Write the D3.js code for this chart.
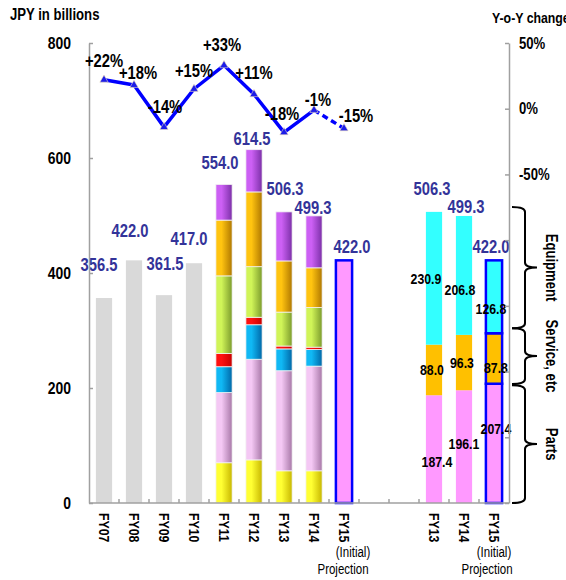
<!DOCTYPE html>
<meta charset="utf-8">
<script src="https://d3js.org/d3.v7.min.js"></script>
<style>
body { margin: 0; background: #fff; }
text {
  font-family: 'Liberation Sans Narrow', 'Arial Narrow', 'Liberation Sans', Arial, sans-serif;
  font-weight: bold;
  fill: #000;
}
.axis path, .axis line { stroke: #a0a0a0; stroke-width: 1.5px; }
</style>
<body>
<script>

// ---- data ----
var slotKeys = ["FY07","FY08","FY09","FY10","FY11","FY12","FY13","FY14","FY15","gapA","gapB","FY13r","FY14r","FY15r"];
var slotLabels = ["FY07","FY08","FY09","FY10","FY11","FY12","FY13","FY14","FY15","","","FY13","FY14","FY15"];

var greyYears = ["FY07","FY08","FY09","FY10"];
var greyValues = [356.5, 422.0, 361.5, 417.0];

var stackYears = ["FY11","FY12","FY13","FY14"];
var segYellow = [70, 75, 56, 56];
var segLilac  = [122, 175, 174, 182];
var segBlue   = [45, 60, 38, 29];
var segRed    = [23, 13, 5, 4];
var segGreen  = [135, 88, 59, 69];
var segOrange = [97, 130, 89, 69];
var segPurple = [62, 73.5, 85.3, 90.3];
var stackTotals = [554.0, 614.5, 506.3, 499.3];

var projYear = "FY15";
var projValue = 422.0;

var yoyYears = ["FY07","FY08","FY09","FY10","FY11","FY12","FY13","FY14","FY15"];
var yoyValues = [22, 18, -14, 15, 33, 11, -18, -1, -15];

var rightYears = ["FY13r","FY14r","FY15r"];
var partsValues = [187.4, 196.1, 207.4];
var serviceValues = [88.0, 96.3, 87.8];
var equipValues = [230.9, 206.8, 126.8];
var rightTotals = [506.3, 499.3, 422.0];

var braceLabels = ["Equipment", "Service, etc", "Parts"];
var braceRanges = [[304, 515], [207, 304], [0, 205]];

var leftTicks = [0, 200, 400, 600, 800];
var rightTicks = [50, 0, -50, -100, -150, -200, -250, -300];
var rightTickShown = [50, 0, -50];

// ---- label nudges (layout only) ----
var totalNudge = {
  FY07: [-5, -27], FY08: [-4, -23], FY09: [1, -25], FY10: [-5, -18],
  FY11: [-4, -15], FY12: [-2, -5], FY13: [1, -17], FY14: [-1, -2], FY15: [8, -7],
  FY13r: [-2, -17], FY14r: [2, -3], FY15r: [-3, -7]
};
var yoyNudge = [[0, -13], [4, -6], [1, -14], [0, -12], [-2, -14], [0, -15], [-2, -12], [4, -4], [12, -6]];
var segNudge = [
  [[3, 13], [-2, 0], [-8, 0]],
  [[0, -3], [-2, 0], [-4, 14]],
  [[2, -15], [2, 9], [-3, 12]]
];

// ---- chart ----
var width = 566, height = 580;

var svg = d3.select("body").append("svg")
    .attr("width", width)
    .attr("height", height);

var x = d3.scaleBand()
    .domain(slotKeys)
    .range([89, 509])
    .padding(0);

var yL = d3.scaleLinear().domain([0, 800]).range([503, 43]);
var yR = d3.scaleLinear().domain([-300, 50]).range([503, 43]);

var barW = x.bandwidth() * 0.54;
function cx(k) { return x(k) + x.bandwidth() / 2; }

// gradients for the stacked segments
var gradColors = {
  yellow: ["#ffff33", "#c8b800"],
  lilac:  ["#f4c8f4", "#a878a8"],
  blue:   ["#10b8f4", "#0068a8"],
  red:    ["#ff1010", "#c80000"],
  green:  ["#d0f458", "#7c9c2c"],
  orange: ["#ffc410", "#b07800"],
  purple: ["#cc60f4", "#7c30a8"]
};
var defs = svg.append("defs");
Object.keys(gradColors).forEach(function(name) {
  var g = defs.append("linearGradient")
      .attr("id", "g-" + name)
      .attr("x1", "0%").attr("x2", "100%").attr("y1", "0%").attr("y2", "0%");
  g.append("stop").attr("offset", "0%").attr("stop-color", gradColors[name][0]);
  g.append("stop").attr("offset", "35%").attr("stop-color", gradColors[name][0]);
  g.append("stop").attr("offset", "100%").attr("stop-color", gradColors[name][1]);
});

// grey history bars
svg.append("g").selectAll("rect")
    .data(greyYears)
    .enter().append("rect")
    .attr("x", function(d) { return cx(d) - barW / 2; })
    .attr("width", barW)
    .attr("y", function(d, i) { return yL(greyValues[i]); })
    .attr("height", function(d, i) { return yL(0) - yL(greyValues[i]); })
    .attr("fill", "#d9d9d9");

// stacked segment bars
var segNames = ["yellow", "lilac", "blue", "red", "green", "orange", "purple"];
var segArrays = [segYellow, segLilac, segBlue, segRed, segGreen, segOrange, segPurple];
var stackRows = stackYears.map(function(yr, i) {
  var row = { year: yr };
  segNames.forEach(function(n, j) { row[n] = segArrays[j][i]; });
  return row;
});
var stacked = d3.stack().keys(segNames)(stackRows);

svg.append("g").selectAll("g")
    .data(stacked)
    .enter().append("g")
    .attr("fill", function(d) { return "url(#g-" + d.key + ")"; })
    .selectAll("rect")
    .data(function(d) { return d; })
    .enter().append("rect")
    .attr("x", function(d) { return cx(d.data.year) - barW / 2; })
    .attr("width", barW)
    .attr("y", function(d) { return yL(d[1]); })
    .attr("height", function(d) { return yL(d[0]) - yL(d[1]); })
    .attr("stroke", "#f2f2f2")
    .attr("stroke-width", 0.8);

// projection bar
svg.append("rect")
    .attr("x", cx(projYear) - barW / 2)
    .attr("width", barW)
    .attr("y", yL(projValue))
    .attr("height", yL(0) - yL(projValue))
    .attr("fill", "#ff99ff")
    .attr("stroke", "#0000ff")
    .attr("stroke-width", 2.5);

// right breakdown group
var rightRows = rightYears.map(function(yr, i) {
  return { year: yr, parts: partsValues[i], service: serviceValues[i], equip: equipValues[i], idx: i };
});
var rightStack = d3.stack().keys(["parts", "service", "equip"])(rightRows);
var rightFill = { parts: "#ff99ff", service: "#ffc000", equip: "#33ffff" };

rightStack.forEach(function(layer, li) {
  layer.forEach(function(d) {
    var isProj = d.data.year === "FY15r";
    svg.append("rect")
        .attr("x", cx(d.data.year) - barW / 2)
        .attr("width", barW)
        .attr("y", yL(d[1]))
        .attr("height", yL(d[0]) - yL(d[1]))
        .attr("fill", rightFill[layer.key])
        .attr("stroke", isProj ? "#0000ff" : "none")
        .attr("stroke-width", isProj ? 2.5 : 0);
  });
});

// segment value labels
rightStack.forEach(function(layer, li) {
  layer.forEach(function(d) {
    var i = d.data.idx;
    var nud = segNudge[i][li];
    svg.append("text")
        .attr("x", cx(d.data.year) + nud[0])
        .attr("y", (yL(d[0]) + yL(d[1])) / 2 + nud[1])
        .attr("dy", "0.35em")
        .attr("text-anchor", "middle")
        .style("font-size", "15px")
        .text(d3.format(".1f")(d[1] - d[0]));
  });
});

// total labels
var totalKeys = greyYears.concat(stackYears, [projYear], rightYears);
var totalVals = greyValues.concat(stackTotals, [projValue], rightTotals);
svg.append("g").selectAll("text")
    .data(totalKeys)
    .enter().append("text")
    .attr("x", function(d) { return cx(d) + totalNudge[d][0]; })
    .attr("y", function(d, i) { return yL(totalVals[i]) + totalNudge[d][1]; })
    .attr("text-anchor", "middle")
    .style("font-size", "18px")
    .style("fill", "#333399")
    .text(function(d, i) { return d3.format(".1f")(totalVals[i]); });

// axes
svg.append("g")
    .attr("class", "axis")
    .attr("transform", "translate(89,0)")
    .call(d3.axisLeft(yL).tickValues(leftTicks).tickSize(-4).tickSizeOuter(0).tickPadding(18))
    .call(function(g) {
      g.selectAll("text").style("font-size", "17px").style("font-family", null).attr("fill", "#000");
    });

svg.append("g")
    .attr("class", "axis")
    .attr("transform", "translate(509,0)")
    .call(d3.axisRight(yR).tickValues(rightTicks).tickSize(-4).tickSizeOuter(0).tickPadding(10)
      .tickFormat(function(d) { return rightTickShown.indexOf(d) >= 0 ? d + "%" : ""; }))
    .call(function(g) {
      g.selectAll("text").style("font-size", "16px").style("font-family", null).attr("fill", "#000");
    });

// bottom axis with ticks on slot boundaries
var xb = svg.append("g").attr("class", "axis");
xb.append("line")
    .attr("x1", x.range()[0]).attr("x2", x.range()[1])
    .attr("y1", yL(0)).attr("y2", yL(0));
xb.selectAll(".btick")
    .data(slotKeys.slice(1))
    .enter().append("line")
    .attr("class", "btick")
    .attr("x1", function(d) { return x(d); })
    .attr("x2", function(d) { return x(d); })
    .attr("y1", yL(0)).attr("y2", yL(0) - 4);

svg.append("g").selectAll("text")
    .data(slotKeys)
    .enter().append("text")
    .attr("transform", function(d) { return "translate(" + cx(d) + "," + (yL(0) + 10) + ") rotate(90)"; })
    .attr("dy", "0.35em")
    .attr("text-anchor", "start")
    .style("font-size", "15px")
    .text(function(d, i) { return slotLabels[i]; });

[["FY15", 9, -1], ["FY15r", 0, -7]].forEach(function(p) {
  svg.append("text")
      .attr("x", cx(p[0]) + p[1]).attr("y", 557)
      .attr("text-anchor", "middle")
      .style("font-size", "14px")
      .style("font-weight", "normal")
      .text("(Initial)");
  svg.append("text")
      .attr("x", cx(p[0]) + p[2]).attr("y", 574)
      .attr("text-anchor", "middle")
      .style("font-size", "14px")
      .style("font-weight", "normal")
      .text("Projection");
});

// y-o-y line
var line = d3.line()
    .x(function(d) { return cx(d.year); })
    .y(function(d) { return yR(d.value); });
var yoyPts = yoyYears.map(function(yr, i) { return { year: yr, value: yoyValues[i] }; });

svg.append("path")
    .datum(yoyPts.slice(0, 8))
    .attr("d", line)
    .attr("fill", "none")
    .attr("stroke", "#0000ff")
    .attr("stroke-width", 3.5)
    .attr("stroke-linejoin", "round");

svg.append("path")
    .datum(yoyPts.slice(7))
    .attr("d", line)
    .attr("fill", "none")
    .attr("stroke", "#0000ff")
    .attr("stroke-width", 3.5)
    .attr("stroke-dasharray", "6,4");

svg.append("g").selectAll("path")
    .data(yoyPts)
    .enter().append("path")
    .attr("d", d3.symbol(d3.symbolTriangle).size(30))
    .attr("transform", function(d) { return "translate(" + cx(d.year) + "," + yR(d.value) + ")"; })
    .attr("fill", "#1c1ce8")
    .attr("stroke", "#f4e4b8")
    .attr("stroke-width", 0.6);

svg.append("g").selectAll("text")
    .data(yoyPts)
    .enter().append("text")
    .attr("x", function(d, i) { return cx(d.year) + yoyNudge[i][0]; })
    .attr("y", function(d, i) { return yR(d.value) + yoyNudge[i][1]; })
    .attr("text-anchor", "middle")
    .style("font-size", "18px")
    .text(function(d) { return (d.value > 0 ? "+" : "") + d.value + "%"; });

// braces
function brace(y0, y1) {
  var xa = 512, xm = 525, xt = 537, m = (y0 + y1) / 2, r = 5;
  return "M" + xa + "," + y0 + " Q" + xm + "," + y0 + " " + xm + "," + (y0 + r) +
         " L" + xm + "," + (m - r) + " Q" + xm + "," + m + " " + xt + "," + m +
         " Q" + xm + "," + m + " " + xm + "," + (m + r) +
         " L" + xm + "," + (y1 - r) + " Q" + xm + "," + y1 + " " + xa + "," + y1;
}
braceRanges.forEach(function(r, i) {
  var top = yL(r[1]), bot = yL(r[0]);
  svg.append("path")
      .attr("d", brace(top, bot))
      .attr("fill", "none")
      .attr("stroke", "#000")
      .attr("stroke-width", 2);
  svg.append("text")
      .attr("transform", "translate(552," + ((top + bot) / 2) + ") rotate(90)")
      .attr("dy", "0.35em")
      .attr("text-anchor", "middle")
      .style("font-size", "16px")
      .text(braceLabels[i]);
});

// titles
svg.append("text").attr("x", 10).attr("y", 20)
    .style("font-size", "16px")
    .text("JPY in billions");
svg.append("text").attr("x", 492).attr("y", 23)
    .style("font-size", "15px")
    .text("Y-o-Y change");

// no narrow face installed: squeeze every label to a narrow width
svg.selectAll("text").each(function() {
  var w = this.getComputedTextLength();
  if (w > 0) {
    d3.select(this)
        .attr("textLength", w * 0.82)
        .attr("lengthAdjust", "spacingAndGlyphs");
  }
});

</script>
</body>
